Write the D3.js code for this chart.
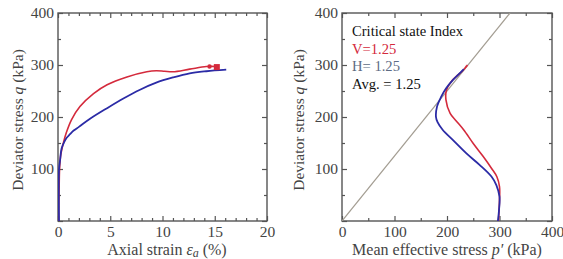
<!DOCTYPE html>
<html>
<head>
<meta charset="utf-8">
<script src="https://cdn.jsdelivr.net/npm/d3@7"></script>
<style>
  body { margin: 0; background: #fff; }
  svg { display: block; }
</style>
</head>
<body>
<div class="dataviz"><svg></svg></div>
<script>
// left plot: q vs axial strain
const strainV = [0.05, 0.1, 0.15, 0.25, 0.5, 0.8, 1.3, 2.1, 3.4, 4.7, 6.6, 8.5, 9.4, 10.2, 11.0, 12.6, 14.2, 15.3];
const qV_strain = [0, 50, 100, 125, 149, 170, 195, 220, 245, 262, 277, 287, 289, 288, 287, 292, 297, 297];
const strainH = [0.1, 0.1, 0.2, 0.35, 0.6, 0.83, 1.15, 1.5, 2.0, 3.1, 4.7, 6.3, 7.8, 9.4, 11.0, 12.6, 14.2, 16.1];
const qH_strain = [0, 100, 117, 140, 152, 160, 167, 174, 181, 197, 217, 236, 252, 266, 276, 284, 288, 291];
const endStrainV = [14.5, 15.2];
const endQV = [297, 296];

// right plot: q vs p'
const pV = [298, 300, 300, 295, 285, 269, 250, 232, 218, 206, 198, 199, 208, 221, 231, 237, 233, 239];
const qV_p = [0, 40, 66, 85, 101, 124, 149, 175, 192, 207, 233, 252, 268, 281, 290, 298, 292, 300];
const pH = [297, 299, 300, 294, 285, 262, 237, 211, 192, 182, 179, 181, 189, 198, 211, 224, 232];
const qH_p = [0, 20, 47, 69, 85, 108, 130, 156, 175, 190, 200, 220, 239, 255, 271, 284, 292];

const csi = 1.25;
const legendLines = ["Critical state Index", "V=1.25", "H= 1.25", "Avg. = 1.25"];

const width = 563, height = 259;
const red = "#d42a3c", blue = "#2b2ba6";
const serif = "'Liberation Serif', 'Times New Roman', serif";

const svg = d3.select(".dataviz > svg")
  .attr("width", width)
  .attr("height", height);

const yScale = d3.scaleLinear().domain([0, 400]).range([221, 13]);
const xLeft = d3.scaleLinear().domain([0, 20]).range([58, 267]);
const xRight = d3.scaleLinear().domain([0, 400]).range([342, 552]);

const drawFrame = (x, y, xMajor, xMinor, yMajor, yMinor, clipId) => {
  const x0 = x.range()[0], x1 = x.range()[1];
  const y0 = y.range()[1], y1 = y.range()[0];
  const g = svg.append("g");

  const tickAxes = [
    [d3.axisBottom, x, `translate(0,${y1})`, true],
    [d3.axisTop, x, `translate(0,${y0})`, false],
    [d3.axisLeft, y, `translate(${x0},0)`, true],
    [d3.axisRight, y, `translate(${x1},0)`, false]
  ];
  tickAxes.forEach(([axisFn, sc, tr, labelled]) => {
    const isX = sc === x;
    const major = isX ? xMajor : yMajor;
    const minor = isX ? xMinor : yMinor;
    g.append("g").attr("transform", tr)
      .call(axisFn(sc).tickValues(minor).tickSize(-3).tickFormat(""))
      .call(a => a.select(".domain").remove());
    const ax = g.append("g").attr("transform", tr)
      .call(axisFn(sc).tickValues(major).tickSize(-5).tickPadding(isX ? 5 : 4)
        .tickFormat(labelled ? (d => d === 0 && !isX ? "" : d) : ""))
      .call(a => a.select(".domain").remove());
    ax.selectAll("text")
      .attr("font-family", serif)
      .attr("font-size", 15.5)
      .attr("fill", "#444");
  });
  g.selectAll("line").attr("stroke", "#555").attr("stroke-width", 1.2);

  g.append("rect")
    .attr("x", x0).attr("y", y0)
    .attr("width", x1 - x0).attr("height", y1 - y0)
    .attr("fill", "none").attr("stroke", "#555").attr("stroke-width", 1.4);

  svg.append("clipPath").attr("id", clipId)
    .append("rect")
    .attr("x", x0).attr("y", y0)
    .attr("width", x1 - x0).attr("height", y1 - y0);
};

const yMajor = [0, 100, 200, 300, 400];
const yMinor = d3.range(50, 400, 100);

drawFrame(xLeft, yScale, [0, 5, 10, 15, 20], d3.range(0, 21, 1).filter(d => d % 5), yMajor, yMinor, "clipL");
drawFrame(xRight, yScale, [0, 100, 200, 300, 400], d3.range(50, 400, 100), yMajor, yMinor, "clipR");

// curves
const pathOf = (xs, ys, xsc) => d3.line()
  .x((d, i) => xsc(xs[i]))
  .y((d, i) => yScale(ys[i]))
  .curve(d3.curveCatmullRom.alpha(0.5))(xs);

const plotL = svg.append("g").attr("clip-path", "url(#clipL)");
plotL.append("path").attr("d", pathOf(strainV, qV_strain, xLeft))
  .attr("fill", "none").attr("stroke", red).attr("stroke-width", 1.6);
plotL.append("path").attr("d", pathOf(strainH, qH_strain, xLeft))
  .attr("fill", "none").attr("stroke", blue).attr("stroke-width", 1.8);
plotL.append("circle")
  .attr("cx", xLeft(endStrainV[0])).attr("cy", yScale(endQV[0])).attr("r", 2.2).attr("fill", red);
plotL.append("rect")
  .attr("x", xLeft(endStrainV[1]) - 3).attr("y", yScale(endQV[1]) - 3)
  .attr("width", 6).attr("height", 6).attr("fill", red);

const plotR = svg.append("g").attr("clip-path", "url(#clipR)");
plotR.append("line")
  .attr("x1", xRight(0)).attr("y1", yScale(0))
  .attr("x2", xRight(400 / csi)).attr("y2", yScale(400))
  .attr("stroke", "#a39d92").attr("stroke-width", 1.2);
plotR.append("path").attr("d", pathOf(pV, qV_p, xRight))
  .attr("fill", "none").attr("stroke", red).attr("stroke-width", 1.6);
plotR.append("path").attr("d", pathOf(pH, qH_p, xRight))
  .attr("fill", "none").attr("stroke", blue).attr("stroke-width", 1.8);

// legend text
const legendColors = ["#111", red, "#5d6c84", "#111"];
legendLines.forEach((t, i) => {
  svg.append("text")
    .attr("x", 352).attr("y", 36 + i * 17.5)
    .attr("font-family", serif).attr("font-size", 14.6)
    .attr("fill", legendColors[i]).text(t);
});

// axis titles
const xt1 = svg.append("text").attr("x", 167).attr("y", 255)
  .attr("text-anchor", "middle").attr("font-family", serif).attr("font-size", 16).attr("fill", "#444");
xt1.append("tspan").text("Axial strain  ");
xt1.append("tspan").attr("font-style", "italic").text("ε");
xt1.append("tspan").attr("font-style", "italic").attr("font-size", 12).attr("dy", 2).text("a");
xt1.append("tspan").attr("dy", -2).text(" (%)");

const xt2 = svg.append("text").attr("x", 447).attr("y", 255)
  .attr("text-anchor", "middle").attr("font-family", serif).attr("font-size", 16).attr("fill", "#444");
xt2.append("tspan").text("Mean effective stress  ");
xt2.append("tspan").attr("font-style", "italic").text("p′");
xt2.append("tspan").text(" (kPa)");

[[23, 120], [304, 120]].forEach(([x, y]) => {
  const yt = svg.append("text")
    .attr("transform", `translate(${x},${y}) rotate(-90)`)
    .attr("text-anchor", "middle").attr("font-family", serif).attr("font-size", 15.5).attr("fill", "#444");
  yt.append("tspan").text("Deviator stress  ");
  yt.append("tspan").attr("font-style", "italic").text("q");
  yt.append("tspan").text(" (kPa)");
});
</script>
</body>
</html>
